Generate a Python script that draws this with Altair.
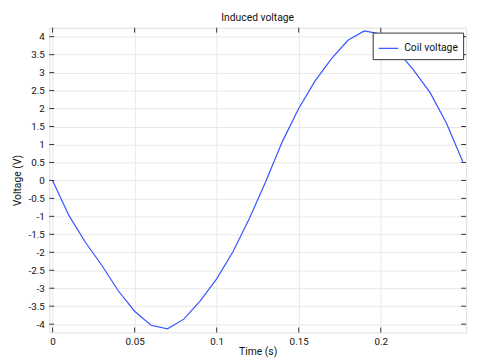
import altair as alt
import pandas as pd

time_s = [0.00, 0.01, 0.02, 0.03, 0.04, 0.05, 0.06, 0.07, 0.08, 0.09, 0.10, 0.11, 0.12,
          0.13, 0.14, 0.15, 0.16, 0.17, 0.18, 0.19, 0.20, 0.21, 0.22, 0.23, 0.24, 0.25]
voltage = [0.0, -0.98, -1.72, -2.36, -3.07, -3.64, -4.03, -4.13, -3.86, -3.35, -2.74, -1.98, -1.05,
           -0.02, 1.08, 2.0, 2.77, 3.39, 3.9, 4.16, 4.07, 3.62, 3.07, 2.45, 1.6, 0.52]
series = "Coil voltage"
x_ticks = [0, 0.05, 0.1, 0.15, 0.2]
y_ticks = [-4, -3.5, -3, -2.5, -2, -1.5, -1, -0.5, 0, 0.5, 1, 1.5, 2, 2.5, 3, 3.5, 4]

W, H = 424, 310
FONT = "Roboto"
TXT = "#111"

df = pd.DataFrame({"t": time_s, "v": voltage, "series": [series] * len(time_s)})
df_xt = pd.DataFrame({"t": x_ticks})
df_yt = pd.DataFrame({"v": y_ticks})

x_scale = alt.Scale(domain=[-0.002, 0.252], nice=False, zero=False)
y_scale = alt.Scale(domain=[-4.23, 4.25], nice=False, zero=False)

x_axis = alt.Axis(values=x_ticks, title="Time (s)", grid=True, gridColor="#e8e8e8",
                  domain=False, ticks=False, labelPadding=4, titlePadding=0,
                  labelFontSize=10, titleFontSize=10.5, labelFont=FONT, titleFont=FONT,
                  labelColor=TXT, titleColor=TXT, titleFontWeight="normal",
                  labelFlush=False, labelExpr="datum.value + ''")
y_axis = alt.Axis(values=y_ticks, title="Voltage (V)", grid=True, gridColor="#e8e8e8",
                  domain=False, ticks=False, labelPadding=5, titlePadding=6,
                  labelFontSize=10, titleFontSize=10.5, labelFont=FONT, titleFont=FONT,
                  labelColor=TXT, titleColor=TXT, titleFontWeight="normal",
                  labelFlush=False, labelExpr="datum.value + ''")

X = alt.X("t:Q", scale=x_scale, axis=x_axis)
Y = alt.Y("v:Q", scale=y_scale, axis=y_axis)

line = alt.Chart(df).mark_line(strokeWidth=1.2).encode(
    x=X, y=Y,
    color=alt.Color("series:N", scale=alt.Scale(range=["#3355ff"]),
                    legend=alt.Legend(title=None, orient="none", legendX=329, legendY=5,
                                      symbolType="stroke", symbolSize=400, symbolStrokeWidth=1.2,
                                      labelFontSize=10.5, labelFont=FONT, labelColor=TXT,
                                      fillColor="white", strokeColor="#333", padding=5,
                                      cornerRadius=0, labelOffset=5)),
)

tick_color = "#333"
left_t = alt.Chart(df_yt).mark_rule(color=tick_color).encode(y=Y, x=alt.value(0), x2=alt.value(5))
right_t = alt.Chart(df_yt).mark_rule(color=tick_color).encode(y=Y, x=alt.value(W - 5), x2=alt.value(W))
bottom_t = alt.Chart(df_xt).mark_rule(color=tick_color).encode(x=X, y=alt.value(H - 5), y2=alt.value(H))
top_t = alt.Chart(df_xt).mark_rule(color=tick_color).encode(x=X, y=alt.value(0), y2=alt.value(5))

chart = alt.layer(line, left_t, right_t, bottom_t, top_t).properties(
    width=W, height=H,
    title=alt.TitleParams("Induced voltage", fontSize=10.5, font=FONT, fontWeight="normal",
                          color=TXT, offset=4),
    autosize=alt.AutoSizeParams(type="none"),
    padding={"left": 42, "top": 17, "right": 5, "bottom": 25},
).configure_view(stroke="#333", strokeWidth=1.2).configure(background="white")

chart.save("out.html", embed_options={"renderer": "svg", "actions": False})
